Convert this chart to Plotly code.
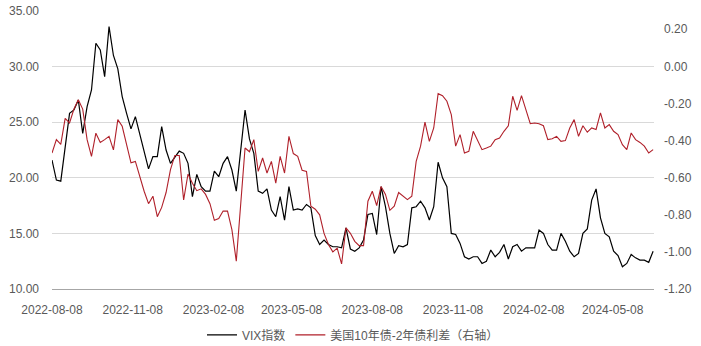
import pandas as pd
import plotly.graph_objects as go

dates = pd.date_range("2022-08-08", periods=138, freq="5D")

vix = [
    21.6, 19.8, 19.7, 22.8, 25.8, 26.1, 27.0, 24.0, 26.4, 27.9,
    32.1, 31.5, 29.1, 33.6, 31.0, 29.8, 27.3, 25.8, 24.4, 25.5,
    24.0, 22.5, 20.8, 21.9, 21.9, 24.6, 22.5, 21.3, 21.9, 22.4,
    22.2, 21.3, 18.3, 20.3, 19.2, 18.8, 18.8, 20.6, 20.1, 21.3,
    21.9, 20.7, 18.8, 22.5, 26.1, 23.5, 22.2, 18.8, 18.6, 19.0,
    17.1, 16.5, 18.3, 16.2, 19.2, 17.1, 17.2, 17.1, 17.6, 17.3,
    14.8, 14.0, 14.4, 14.0, 13.8, 13.8, 13.7, 15.5, 13.6, 13.4,
    13.7, 14.4, 16.7, 16.8, 14.9, 19.2, 17.4, 15.0, 13.2, 13.9,
    13.8, 14.0, 17.3, 17.4, 17.9, 17.3, 16.2, 17.4, 21.4, 20.0,
    19.2, 15.0, 14.9, 14.1, 12.9, 12.7, 12.9, 12.9, 12.3, 12.5,
    13.5, 12.9, 13.3, 14.0, 12.7, 13.8, 14.0, 13.4, 13.7, 13.7,
    13.7, 15.3, 15.0, 14.0, 13.5, 13.5, 15.0, 14.3, 13.4, 12.9,
    13.2, 15.0, 15.4, 18.0, 19.0, 16.4, 15.0, 14.7, 13.4, 13.0,
    12.0, 12.3, 13.1, 12.8, 12.6, 12.6, 12.4, 13.4,
]

spread = [
    -0.467, -0.395, -0.42, -0.28, -0.305, -0.23, -0.18, -0.23, -0.395, -0.485,
    -0.36, -0.41, -0.395, -0.377, -0.45, -0.287, -0.323, -0.43, -0.52, -0.512,
    -0.593, -0.673, -0.74, -0.70, -0.81, -0.76, -0.68, -0.557, -0.48, -0.48,
    -0.72, -0.58, -0.63, -0.67, -0.66, -0.69, -0.74, -0.83, -0.82, -0.78,
    -0.78, -0.88, -1.05, -0.72, -0.44, -0.46, -0.395, -0.566, -0.494, -0.575,
    -0.512, -0.629, -0.485, -0.575, -0.377, -0.47, -0.485, -0.56, -0.566, -0.754,
    -0.77, -0.80, -0.90, -0.96, -1.0, -0.98, -1.065, -0.87, -0.90, -0.943,
    -0.966, -0.966, -0.727, -0.673, -0.75, -0.647, -0.69, -0.776, -0.754, -0.68,
    -0.697, -0.718, -0.70, -0.512, -0.43, -0.30, -0.404, -0.332, -0.147, -0.158,
    -0.188, -0.26, -0.43, -0.368, -0.467, -0.458, -0.35, -0.404, -0.449, -0.44,
    -0.43, -0.395, -0.386, -0.35, -0.32, -0.161, -0.237, -0.158, -0.233, -0.309,
    -0.305, -0.309, -0.32, -0.395, -0.39, -0.377, -0.404, -0.40, -0.332, -0.287,
    -0.377, -0.32, -0.355, -0.332, -0.34, -0.251, -0.332, -0.314, -0.35, -0.368,
    -0.422, -0.449, -0.359, -0.395, -0.41, -0.43, -0.467, -0.449,
]

x_ticks = ["2022-08-08", "2022-11-08", "2023-02-08", "2023-05-08",
           "2023-08-08", "2023-11-08", "2024-02-08", "2024-05-08"]
left_ticks = [10, 15, 20, 25, 30, 35]
right_ticks = [-1.2, -1.0, -0.8, -0.6, -0.4, -0.2, 0.0, 0.2]

FONT = "Liberation Sans, Arial, Noto Sans CJK SC, sans-serif"
GREY = "#595959"

fig = go.Figure()
fig.add_trace(go.Scatter(x=dates, y=vix, mode="lines", name="VIX指数",
                         line=dict(color="#000000", width=1.2)))
fig.add_trace(go.Scatter(x=dates, y=spread, mode="lines", name="美国10年债-2年债利差（右轴）",
                         yaxis="y2", line=dict(color="#B0202A", width=1.1)))

fig.update_layout(
    width=701, height=346,
    margin=dict(l=52, r=47, t=11, b=57, autoexpand=False),
    paper_bgcolor="white", plot_bgcolor="white",
    font=dict(family=FONT, size=12, color=GREY),
    showlegend=True,
    legend=dict(orientation="h", x=0.5, xanchor="center", y=-0.165, yanchor="middle",
                font=dict(size=12, color=GREY), itemwidth=30),
    xaxis=dict(type="date", range=["2022-08-08", "2024-06-24"],
               tickvals=x_ticks, ticktext=x_ticks, showgrid=False,
               showline=True, linecolor="#a6a6a6", linewidth=1,
               ticks="", ticklabelstandoff=10, automargin=False,
               tickfont=dict(size=12, color=GREY), zeroline=False),
    yaxis=dict(range=[10, 35], tickvals=left_ticks,
               ticktext=[f"{v:.2f}" for v in left_ticks],
               showgrid=True, gridcolor="#d9d9d9", gridwidth=1,
               zeroline=False, showline=False, ticks="", automargin=False,
               ticklabelstandoff=12, tickfont=dict(size=12, color=GREY)),
    yaxis2=dict(range=[-1.2, 0.2985], overlaying="y", side="right",
                tickvals=right_ticks, ticktext=[f"{v:.2f}" for v in right_ticks],
                showgrid=False, zeroline=False, showline=False, ticks="",
                automargin=False,
                ticklabelstandoff=9, tickfont=dict(size=12, color=GREY)),
)

fig.write_html("out.html")
